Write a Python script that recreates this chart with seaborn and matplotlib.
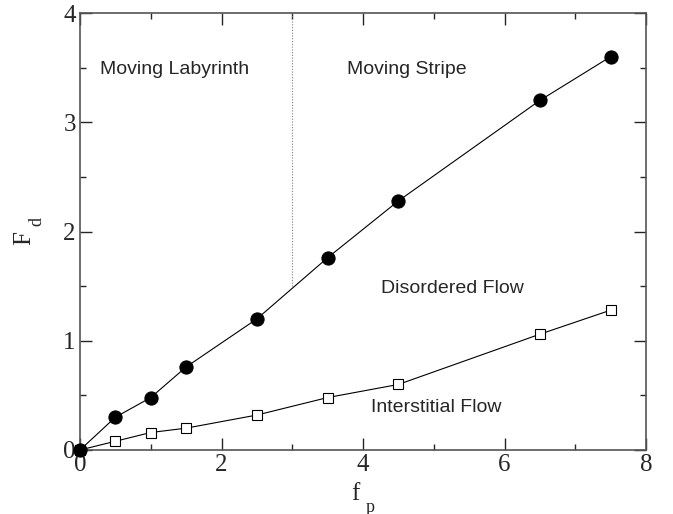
import matplotlib
matplotlib.use("Agg")
import matplotlib.pyplot as plt
import seaborn as sns
import pandas as pd
from matplotlib.ticker import MultipleLocator

# 데이터
fp = [0, 0.5, 1.0, 1.5, 2.5, 3.5, 4.5, 6.5, 7.5]
fd_stripe = [0, 0.30, 0.48, 0.76, 1.20, 1.76, 2.28, 3.20, 3.60]
fd_interstitial = [0, 0.08, 0.16, 0.20, 0.32, 0.48, 0.60, 1.06, 1.28]
boundary_x = [3.0, 3.0]
boundary_y = [1.5, 4.0]

sns.set_style("ticks")
plt.rcParams['font.family'] = ['Liberation Serif', 'DejaVu Serif']

df = pd.DataFrame({"fp": fp, "stripe": fd_stripe, "inter": fd_interstitial})

fig = plt.figure(figsize=(6.73, 5.14), dpi=100)
ax = fig.add_axes([80 / 673, 1 - 450 / 514, 566 / 673, 437 / 514])

sns.lineplot(data=df, x="fp", y="inter", ax=ax, color="black", lw=0.8,
             marker="s", markersize=7.5, markerfacecolor="white",
             markeredgecolor="black", markeredgewidth=0.8, clip_on=False, zorder=3)
sns.lineplot(data=df, x="fp", y="stripe", ax=ax, color="black", lw=0.8,
             marker="o", markersize=9.5, markerfacecolor="black",
             markeredgecolor="black", clip_on=False, zorder=4)
ax.plot(boundary_x, boundary_y, color="gray", lw=0.8, ls=(0, (1, 1.5)))

sans = ['Liberation Sans', 'DejaVu Sans']
ax.text(1.34, 3.48, "Moving Labyrinth", family=sans, fontsize=14, ha="center", va="center")
ax.text(4.62, 3.48, "Moving Stripe", family=sans, fontsize=14, ha="center", va="center")
ax.text(5.27, 1.48, "Disordered Flow", family=sans, fontsize=14, ha="center", va="center")
ax.text(5.04, 0.385, "Interstitial Flow", family=sans, fontsize=14, ha="center", va="center")

ax.set_xlim(0, 8)
ax.set_ylim(0, 4)
ax.xaxis.set_major_locator(MultipleLocator(2))
ax.xaxis.set_minor_locator(MultipleLocator(1))
ax.yaxis.set_major_locator(MultipleLocator(1))
ax.yaxis.set_minor_locator(MultipleLocator(0.5))
ax.tick_params(which="both", direction="in", top=True, right=True, labelsize=18, width=1, pad=3)
ax.tick_params(which="major", length=8.5)
ax.tick_params(which="minor", length=4.5)
for s in ax.spines.values():
    s.set_linewidth(1.2)
    s.set_color("#555555")

# 축 라벨 (아래첨자를 원본처럼 크게 내려 배치)
ax.set_xlabel("")
ax.set_ylabel("")
fig.text(355 / 673, 1 - 494 / 514, "f", fontsize=18, ha="center", va="center")
fig.text(370 / 673, 1 - 507 / 514, "p", fontsize=13, ha="center", va="center")
fig.text(24 / 673, 1 - 238 / 514, "F", fontsize=18, ha="center", va="center", rotation=90)
fig.text(37 / 673, 1 - 222 / 514, "d", fontsize=13, ha="center", va="center", rotation=90)

fig.savefig("out.png", dpi=100)
plt.close()
